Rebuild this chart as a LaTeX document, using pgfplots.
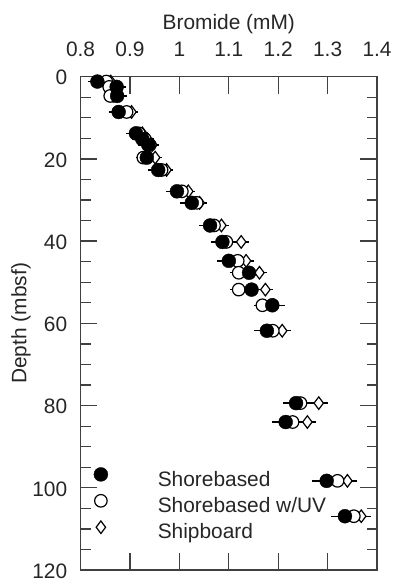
\documentclass[border=0pt]{standalone}
\usepackage{fontspec}
\setmainfont{Liberation Sans}
\usepackage{pgfplots}
\usepackage{pgfplotstable}
\pgfplotsset{compat=1.18}

% Pore-water bromide profile: depth (mbsf), concentration (mM) and
% analytical uncertainty for each data set
% F = shorebased, U = shorebased w/UV, S = shipboard
\pgfplotstableread{
depth  F      Fe     U      Ue     S      Se
1.2    0.834  0.018  0.852  0.013  0.861  0.012
2.5    0.873  0.019  0.858  0.013  0.862  0.012
4.7    0.874  0.019  0.860  0.013  0.866  0.012
8.6    0.877  0.019  0.893  0.013  0.903  0.013
13.8   0.912  0.020  0.918  0.014  0.925  0.013
15.2   0.925  0.020  0.930  0.014  0.935  0.013
16.6   0.937  0.021  0.940  0.014  0.945  0.013
19.7   0.934  0.021  0.927  0.014  0.951  0.013
22.7   0.957  0.021  0.964  0.014  0.974  0.014
27.9   0.995  0.022  1.005  0.015  1.018  0.014
30.7   1.025  0.023  1.035  0.016  1.041  0.015
36.2   1.062  0.023  1.070  0.016  1.085  0.015
40.2   1.087  0.024  1.095  0.016  1.125  0.016
44.8   1.100  0.024  1.118  0.017  1.135  0.016
47.7   1.141  0.025  1.120  0.017  1.162  0.016
51.8   1.146  0.025  1.120  0.017  1.174  0.016
55.6   1.188  0.026  1.168  0.018  1.190  0.017
61.8   1.177  0.026  1.189  0.018  1.208  0.017
79.4   1.236  0.027  1.245  0.019  1.282  0.018
84.0   1.215  0.027  1.229  0.018  1.259  0.018
98.3   1.298  0.029  1.320  0.020  1.340  0.019
106.9  1.335  0.029  1.353  0.020  1.368  0.019
}\bromide

\newcommand{\figfont}{\fontsize{21bp}{25bp}\selectfont}

\begin{document}
\begin{tikzpicture}[font=\figfont]
\begin{axis}[
  scale only axis,
  width=298bp, height=496bp,
  xmin=0.8, xmax=1.4,
  ymin=0, ymax=120,
  y dir=reverse,
  xtick={0.8,0.9,1.0,1.1,1.2,1.3,1.4},
  xticklabels={0.8,0.9,1,1.1,1.2,1.3,1.4},
  xticklabel pos=upper,
  ytick={0,20,40,60,80,100,120},
  minor y tick num=3,
  tick align=inside,
  major tick length=17bp,
  minor tick length=10bp,
  axis line style={line width=1.3bp, black!75},
  every tick/.style={line width=1.3bp, black!75},
  every minor tick/.style={line width=1.3bp, black!75},
  /pgf/number format/assume math mode=true,
  tick label style={font=\figfont, text=black!85},
  label style={font=\figfont, text=black!85},
  xticklabel style={anchor=base, yshift=20bp},
  yticklabel style={anchor=east, xshift=-10bp, yshift=-1bp},
  xlabel={Bromide (mM)},
  ylabel={Depth (mbsf)},
  xlabel style={at={(axis description cs:0.5,1.0948)}, anchor=base},
  ylabel style={at={(axis description cs:-0.2013,0.5)}, anchor=center, rotate=0},
  reverse legend,
  legend cell align=left,
  legend style={
    at={(axis description cs:0.0403,0.127)}, anchor=west,
    draw=none, fill=none, inner sep=0pt,
    row sep=0pt, column sep=0pt,
    font=\figfont,
    nodes={text height=15bp, text depth=5.5bp, inner sep=3bp, text=black!85},
  },
  legend image code/.code={%
    \draw[#1] plot coordinates {(0bp,7bp)};
    \path (-8bp,0bp) (54bp,0bp);
  },
  error bars/error bar style={line width=1.4bp, black},
  error bars/error mark=none,
]

% shipboard
\addplot[only marks, mark=diamond*, mark size=6.3bp,
  mark options={fill=white, draw=black, line width=1.2bp},
  error bars/.cd, x dir=both, x explicit]
  table[x=S, y=depth, x error=Se] {\bromide};
\addlegendentry{Shipboard}

% shorebased with UV oxidation
\addplot[only marks, mark=*, mark size=6.3bp,
  mark options={fill=white, draw=black, line width=1.2bp},
  error bars/.cd, x dir=both, x explicit]
  table[x=U, y=depth, x error=Ue] {\bromide};
\addlegendentry{Shorebased w/UV}

% shorebased
\addplot[only marks, mark=*, mark size=7bp,
  mark options={fill=black, draw=black},
  error bars/.cd, x dir=both, x explicit]
  table[x=F, y=depth, x error=Fe] {\bromide};
\addlegendentry{Shorebased}

\end{axis}
\pgfresetboundingbox
\path[use as bounding box] (-81bp,-14bp) rectangle (314bp,573bp);
\end{tikzpicture}
\end{document}
